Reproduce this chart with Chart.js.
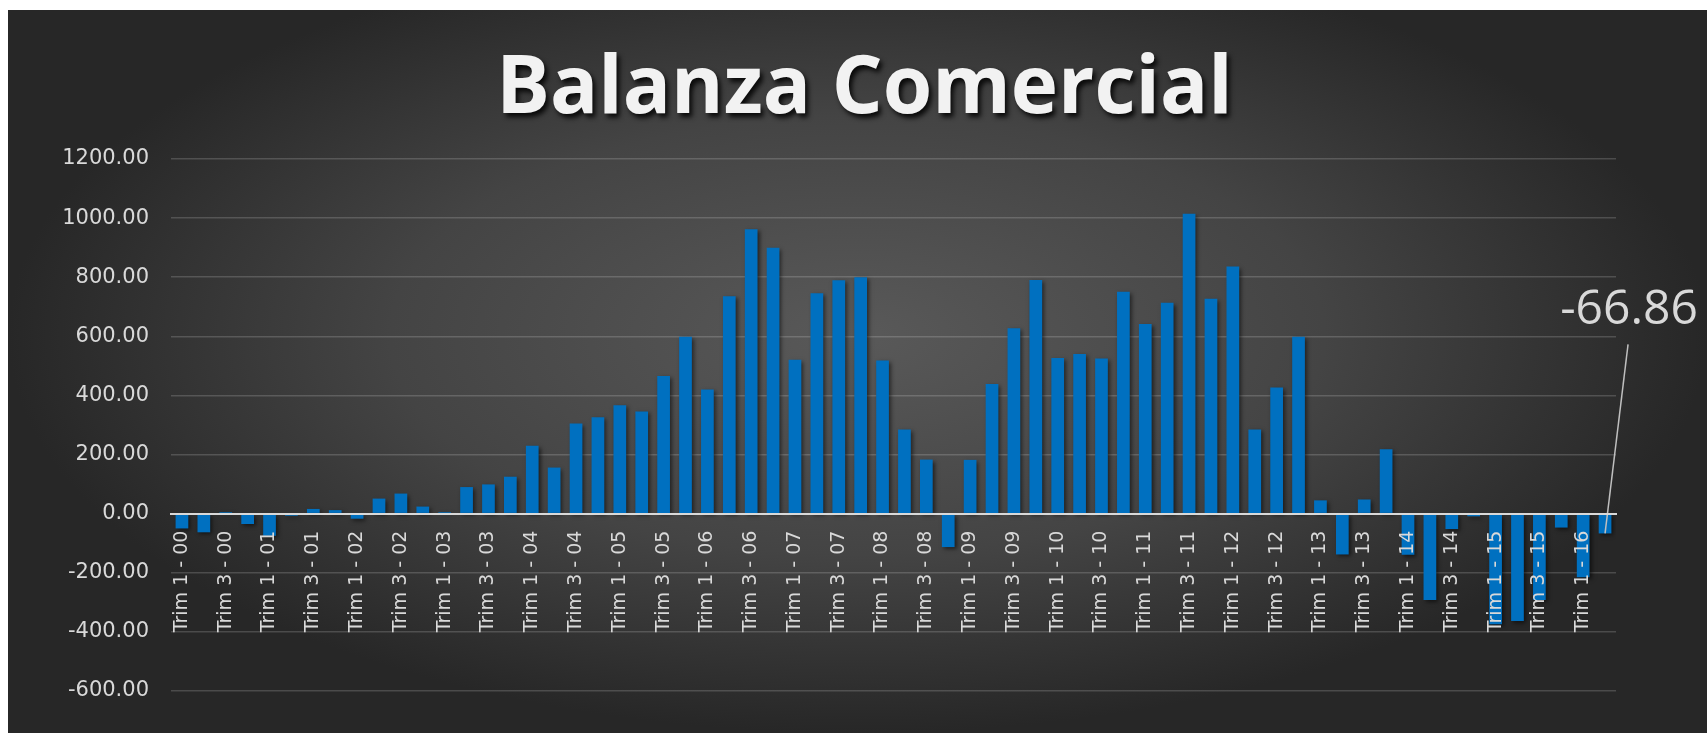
<!DOCTYPE html>
<html>
<head>
<meta charset="utf-8">
<script src="https://cdn.jsdelivr.net/npm/chart.js@4.4.1/dist/chart.umd.min.js"></script>
<style>
    html, body { margin: 0; padding: 0; background: #fff; }
    #wrap {
        position: absolute; left: 8px; top: 10px; width: 1699px; height: 723px;
        background: radial-gradient(ellipse farthest-side at 50% 45%, #595959 0%, #444 55%, #272727 100%);
        overflow: hidden;
    }
    #title {
        position: absolute; left: 14px; right: 0; top: 32px; margin: 0;
        text-align: center; font: bold 80px/80px "Open Sans", sans-serif;
        color: #f2f2f2; text-shadow: 3px 4px 5px rgba(0,0,0,0.85);
    }
    canvas { position: absolute; left: 0; top: 0; }
</style>
</head>
<body>
<div id="wrap">
    <h1 id="title">Balanza Comercial</h1>
    <canvas id="chart" width="1699" height="723"></canvas>
</div>
<script>
// Quarters, Trim 1 - 00 .. Trim 2 - 16
const categories = [
    'Trim 1 - 00','Trim 2 - 00','Trim 3 - 00','Trim 4 - 00',
    'Trim 1 - 01','Trim 2 - 01','Trim 3 - 01','Trim 4 - 01',
    'Trim 1 - 02','Trim 2 - 02','Trim 3 - 02','Trim 4 - 02',
    'Trim 1 - 03','Trim 2 - 03','Trim 3 - 03','Trim 4 - 03',
    'Trim 1 - 04','Trim 2 - 04','Trim 3 - 04','Trim 4 - 04',
    'Trim 1 - 05','Trim 2 - 05','Trim 3 - 05','Trim 4 - 05',
    'Trim 1 - 06','Trim 2 - 06','Trim 3 - 06','Trim 4 - 06',
    'Trim 1 - 07','Trim 2 - 07','Trim 3 - 07','Trim 4 - 07',
    'Trim 1 - 08','Trim 2 - 08','Trim 3 - 08','Trim 4 - 08',
    'Trim 1 - 09','Trim 2 - 09','Trim 3 - 09','Trim 4 - 09',
    'Trim 1 - 10','Trim 2 - 10','Trim 3 - 10','Trim 4 - 10',
    'Trim 1 - 11','Trim 2 - 11','Trim 3 - 11','Trim 4 - 11',
    'Trim 1 - 12','Trim 2 - 12','Trim 3 - 12','Trim 4 - 12',
    'Trim 1 - 13','Trim 2 - 13','Trim 3 - 13','Trim 4 - 13',
    'Trim 1 - 14','Trim 2 - 14','Trim 3 - 14','Trim 4 - 14',
    'Trim 1 - 15','Trim 2 - 15','Trim 3 - 15','Trim 4 - 15',
    'Trim 1 - 16','Trim 2 - 16'
];

// balanza comercial por trimestre
const balanza = [
    -50, -63, 5, -35,
    -75, -7, 16, 12,
    -17, 51, 68, 24,
    5, 90, 99, 125,
    230, 156, 305, 326,
    367, 346, 466, 599,
    420, 736, 962, 900,
    521, 746, 790, 800,
    518, 285, 183, -113,
    182, 439, 627, 791,
    527, 540, 525, 751,
    642, 714, 1015, 727,
    836, 285, 427, 599,
    45, -138, 48, 218,
    -139, -292, -52, -9,
    -374, -363, -292, -47,
    -215, -66.86
];

const yMin = -600, yMax = 1200, yStep = 200;

// only the last value gets a label, like the original
const labelIndex = balanza.length - 1;

const textColor = '#d9d9d9';
const gridColor = 'rgba(255,255,255,0.17)';

const extras = {
    id: 'extras',
    beforeDatasetsDraw(chart) {
        const ctx = chart.ctx;
        ctx.save();
        ctx.shadowColor = 'rgba(0,0,0,0.55)';
        ctx.shadowBlur = 4;
        ctx.shadowOffsetX = 2;
        ctx.shadowOffsetY = 2;
    },
    afterDatasetsDraw(chart) {
        const ctx = chart.ctx;
        ctx.restore();
        const bar = chart.getDatasetMeta(0).data[labelIndex];
        const tx = bar.x + 24, ty = bar.y - 223;
        ctx.save();
        ctx.strokeStyle = '#bfbfbf';
        ctx.lineWidth = 1.5;
        ctx.beginPath();
        ctx.moveTo(tx - 1, ty + 34);
        ctx.lineTo(bar.x, bar.y);
        ctx.stroke();
        ctx.fillStyle = textColor;
        ctx.font = '48px "Open Sans", sans-serif';
        ctx.textAlign = 'center';
        ctx.textBaseline = 'middle';
        ctx.fillText(balanza[labelIndex].toFixed(2), tx, ty);
        ctx.restore();
    }
};

new Chart(document.getElementById('chart'), {
    type: 'bar',
    data: {
        labels: categories,
        datasets: [{
            data: balanza,
            backgroundColor: '#0070C0',
            barPercentage: 0.58,
            categoryPercentage: 1.0
        }]
    },
    options: {
        responsive: false,
        animation: false,
        devicePixelRatio: 1,
        layout: { padding: { top: 149, bottom: 42, right: 91, left: 0 } },
        plugins: { legend: { display: false }, tooltip: { enabled: false } },
        scales: {
            x: {
                position: { y: 0 },
                grid: { display: false, drawTicks: false },
                border: { display: true, color: '#d9d9d9', width: 2, z: 1 },
                ticks: {
                    z: 1,
                    autoSkip: false,
                    maxRotation: 90,
                    minRotation: 90,
                    padding: 17,
                    color: textColor,
                    font: { family: '"DejaVu Sans", sans-serif', size: 19 },
                    callback: function(val, i) { return i % 2 === 0 ? this.getLabelForValue(val) : ''; }
                }
            },
            y: {
                min: yMin,
                max: yMax,
                afterFit(scale) { scale.width = 163; },
                grid: {
                    drawTicks: false,
                    lineWidth: 1.5,
                    color: c => (c.tick && c.tick.value === 0) ? 'rgba(0,0,0,0)' : gridColor
                },
                border: { display: false },
                ticks: {
                    stepSize: yStep,
                    padding: 22,
                    color: textColor,
                    font: { family: '"DejaVu Sans", sans-serif', size: 21 },
                    callback: v => v.toFixed(2)
                }
            }
        }
    },
    plugins: [extras]
});
</script>
</body>
</html>
